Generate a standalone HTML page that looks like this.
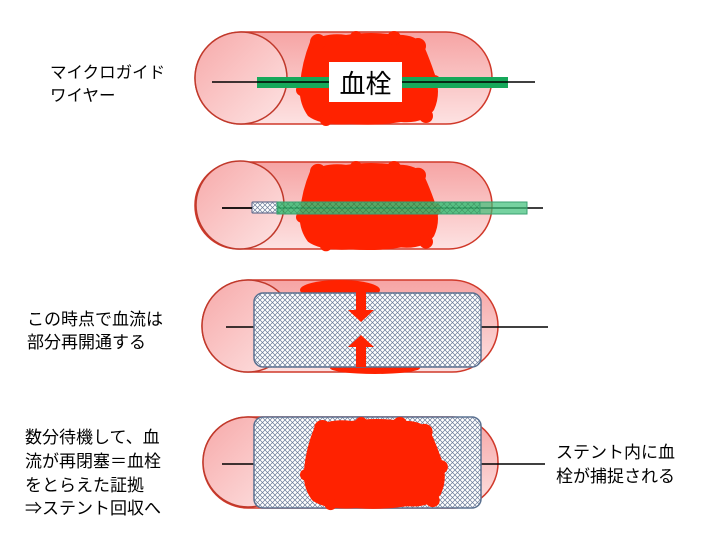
<!DOCTYPE html>
<html><head><meta charset="utf-8"><style>
html,body{margin:0;padding:0;background:#fff;}
svg{display:block}
text{font-family:"Liberation Sans","Noto Sans CJK JP",sans-serif;fill:#000;}
</style></head><body>
<svg width="720" height="540" viewBox="0 0 720 540" xmlns="http://www.w3.org/2000/svg">
<defs>
<linearGradient id="vg" x1="0" y1="0" x2="0" y2="1">
<stop offset="0" stop-color="#f6a4a4"/><stop offset="1" stop-color="#fde2e2"/></linearGradient>
<linearGradient id="cg" x1="0" y1="0" x2="1" y2="1">
<stop offset="0" stop-color="#f7a9a9"/><stop offset="1" stop-color="#fde4e4"/></linearGradient>
<pattern id="hx" width="5" height="5" patternUnits="userSpaceOnUse">
<rect width="5" height="5" fill="#fff"/>
<path d="M0 0L5 5M5 0L0 5" stroke="#6a7a98" stroke-width="0.7"/></pattern>
<pattern id="hg" width="6" height="6" patternUnits="userSpaceOnUse">
<rect width="6" height="6" fill="#3cbf78"/>
<path d="M0 0L6 6M6 0L0 6" stroke="#1e8a50" stroke-width="0.6"/></pattern>
<g id="clot" fill="#ff2200">
<path d="M14 10 Q30 0 50 3 Q75 -1 100 3 Q120 2 128 14 Q134 28 138 40 Q146 60 138 78 Q128 92 105 90 Q80 94 55 92 Q25 94 12 84 Q2 70 4 52 Q6 30 14 10Z"/>
<circle cx="22" cy="10" r="8"/><circle cx="60" cy="5" r="6"/><circle cx="98" cy="6" r="7"/><circle cx="122" cy="14" r="8"/>
<circle cx="138" cy="50" r="7"/><circle cx="6" cy="58" r="6"/><circle cx="130" cy="84" r="7"/><circle cx="30" cy="88" r="6"/>
</g>
</defs>

<!-- Vessel 1 -->
<rect x="195" y="32" width="297" height="92" rx="46" fill="url(#vg)" stroke="#d0392a" stroke-width="1.5"/>
<circle cx="241" cy="78" r="46" fill="url(#cg)" stroke="#c0392b" stroke-width="1.5"/>
<use href="#clot" transform="translate(296,32)"/>
<rect x="257" y="77" width="251" height="11" fill="#16a85a"/>
<line x1="212" y1="82" x2="535" y2="82" stroke="#000" stroke-width="1.5"/>
<rect x="329" y="62" width="73" height="40" fill="#fff"/>
<text x="365.5" y="93" font-size="26" text-anchor="middle">血栓</text>
<text x="50" y="78" font-size="16.5">マイクロガイド</text>
<text x="50" y="101" font-size="16.5">ワイヤー</text>

<!-- Vessel 2 -->
<rect x="195" y="162" width="297" height="87" rx="43" fill="url(#vg)" stroke="#d0392a" stroke-width="1.5"/>
<circle cx="240" cy="205" r="44" fill="url(#cg)" stroke="#c0392b" stroke-width="1.5"/>
<use href="#clot" transform="translate(296,162) scale(1,0.95)"/>
<line x1="222" y1="208" x2="543" y2="208" stroke="#000" stroke-width="1.5"/>
<rect x="252" y="202" width="26" height="11" fill="url(#hx)" stroke="#6a7090" stroke-width="1.2" rx="1"/>
<rect x="277" y="202" width="203" height="12" fill="url(#hg)" fill-opacity="0.85" stroke="#3aa070" stroke-width="1"/>
<rect x="480" y="202" width="47" height="12" fill="#3cbf78" fill-opacity="0.7" stroke="#3aa070" stroke-width="1"/>
<line x1="222" y1="208" x2="252" y2="208" stroke="#000" stroke-width="1.5"/>

<!-- Vessel 3 -->
<rect x="202" y="280" width="296" height="92" rx="46" fill="url(#vg)" stroke="#d0392a" stroke-width="1.5"/>
<circle cx="248" cy="326" r="46" fill="url(#cg)" stroke="#c0392b" stroke-width="1.5"/>
<ellipse cx="340" cy="290" rx="40" ry="10" fill="#ff2200"/>
<ellipse cx="375" cy="368" rx="45" ry="6" fill="#ff2200"/>
<line x1="226" y1="327" x2="548" y2="327" stroke="#000" stroke-width="1.5"/>
<rect x="254" y="293" width="227" height="74" rx="9" fill="url(#hx)" stroke="#5a7090" stroke-width="1.5"/>
<path d="M356 283H366V310H374L361 322L348 310H356Z" fill="#ff2200"/>
<path d="M356 367H366V347H374L361 335L348 347H356Z" fill="#ff2200"/>
<text x="27" y="325" font-size="17">この時点で血流は</text>
<text x="27" y="348" font-size="17">部分再開通する</text>

<!-- Vessel 4 -->
<rect x="203" y="417" width="295" height="91" rx="45" fill="url(#vg)" stroke="#d0392a" stroke-width="1.5"/>
<circle cx="248" cy="462" r="45" fill="url(#cg)" stroke="#c0392b" stroke-width="1.5"/>
<line x1="222" y1="464" x2="545" y2="464" stroke="#000" stroke-width="1.5"/>
<rect x="254" y="417" width="227" height="91" rx="9" fill="url(#hx)" stroke="#5a7090" stroke-width="1.5"/>
<use href="#clot" transform="translate(300,418) scale(1.02,0.98)"/>
<text x="25" y="443" font-size="17">数分待機して、血</text>
<text x="25" y="467" font-size="17">流が再閉塞＝血栓</text>
<text x="25" y="491" font-size="17">をとらえた証拠</text>
<text x="25" y="514" font-size="17">⇒ステント回収へ</text>
<text x="556" y="458" font-size="17">ステント内に血</text>
<text x="556" y="482" font-size="17">栓が捕捉される</text>
</svg>
</body></html>
